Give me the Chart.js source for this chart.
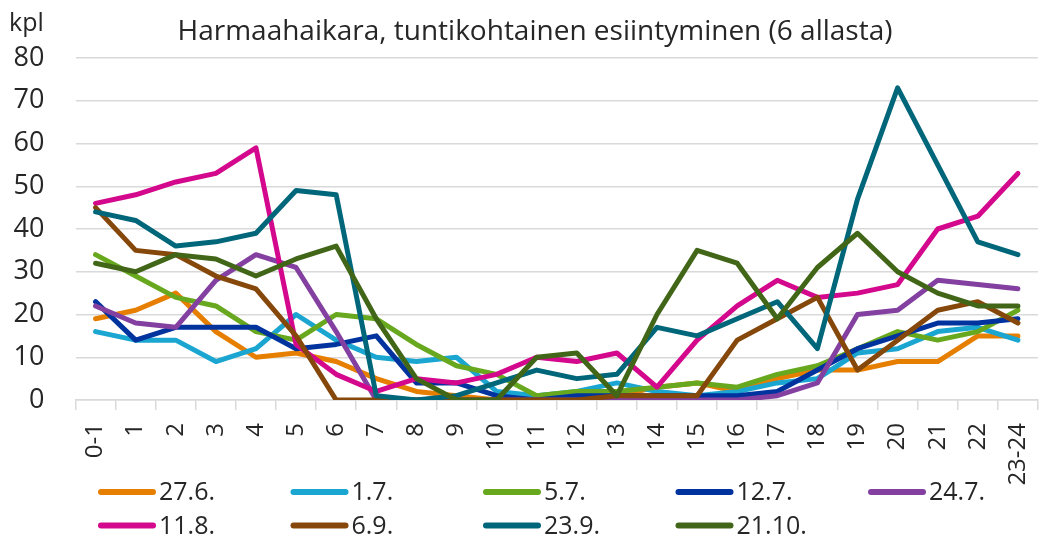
<!DOCTYPE html>
<html>
<head>
<meta charset="utf-8">
<script src="https://cdn.jsdelivr.net/npm/chart.js@4.4.1/dist/chart.umd.min.js"></script>
<style>
  html, body { margin: 0; padding: 0; background: #fff; overflow: hidden; }
  #wrap { width: 1060px; height: 538px; }
</style>
</head>
<body>
<div id="wrap"><canvas id="chart" width="1060" height="538"></canvas></div>
<script>
// ---- data ----
const HOURS = ['0-1', '1', '2', '3', '4', '5', '6', '7', '8', '9', '10', '11',
  '12', '13', '14', '15', '16', '17', '18', '19', '20', '21', '22', '23-24'];

const SERIES_NAMES = ['27.6.', '1.7.', '5.7.', '12.7.', '24.7.', '11.8.', '6.9.', '23.9.', '21.10.'];
const SERIES_COLORS = ['#E67E00', '#1AA6D0', '#68A81E', '#00339E', '#8340A0', '#D4088C', '#85480A', '#00667A', '#426618'];

const D_27_6  = [19, 21, 25, 16, 10, 11, 9, 5, 2, 1, 0, 0, 0, 1, 3, 4, 2, 5, 7, 7, 9, 9, 15, 15];
const D_1_7   = [16, 14, 14, 9, 12, 20, 14, 10, 9, 10, 2, 1, 2, 4, 2, 1, 2, 4, 5, 11, 12, 16, 17, 14];
const D_5_7   = [34, 29, 24, 22, 16, 14, 20, 19, 13, 8, 6, 1, 2, 2, 3, 4, 3, 6, 8, 12, 16, 14, 16, 21];
const D_12_7  = [23, 14, 17, 17, 17, 12, 13, 15, 4, 4, 1, 0, 1, 1, 1, 1, 1, 2, 7, 12, 15, 18, 18, 19];
const D_24_7  = [22, 18, 17, 28, 34, 31, 16, 0, 0, 0, 0, 0, 0, 0, 0, 0, 0, 1, 4, 20, 21, 28, 27, 26];
const D_11_8  = [46, 48, 51, 53, 59, 13, 6, 2, 5, 4, 6, 10, 9, 11, 3, 14, 22, 28, 24, 25, 27, 40, 43, 53];
const D_6_9   = [45, 35, 34, 29, 26, 15, 0, 0, 0, 0, 0, 0, 0, 1, 1, 1, 14, 19, 24, 7, 14, 21, 23, 18];
const D_23_9  = [44, 42, 36, 37, 39, 49, 48, 1, 0, 1, 4, 7, 5, 6, 17, 15, 19, 23, 12, 47, 73, 55, 37, 34];
const D_21_10 = [32, 30, 34, 33, 29, 33, 36, 19, 5, 0, 0, 10, 11, 1, 20, 35, 32, 19, 31, 39, 30, 25, 22, 22];

const SERIES_DATA = [D_27_6, D_1_7, D_5_7, D_12_7, D_24_7, D_11_8, D_6_9, D_23_9, D_21_10];

const Y_MIN = 0, Y_MAX = 80, Y_STEP = 10;

const TITLE = 'Harmaahaikara, tuntikohtainen esiintyminen (6 allasta)';
const UNIT = 'kpl';

const FONT = '"Open Sans", "Segoe UI", sans-serif';
const TEXT = '#262626';
const GRID = '#d9d9d9';

// title, unit label and the 5-column legend are drawn by hand
const decorations = {
  id: 'decorations',
  afterDraw(chart) {
    const ctx = chart.ctx;
    ctx.save();
    ctx.fillStyle = TEXT;
    ctx.textBaseline = 'alphabetic';

    ctx.font = '28px ' + FONT;
    ctx.textAlign = 'center';
    ctx.fillText(TITLE, 535, 40);

    ctx.font = '25px ' + FONT;
    ctx.textAlign = 'left';
    ctx.fillText(UNIT, 9, 31);

    ctx.font = '25px ' + FONT;
    ctx.textBaseline = 'middle';
    SERIES_NAMES.forEach((name, i) => {
      const col = i % 5, row = Math.floor(i / 5);
      const x = 98 + col * 192.5;
      const y = 492 + row * 33.5;
      ctx.strokeStyle = SERIES_COLORS[i];
      ctx.lineWidth = 6;
      ctx.lineCap = 'round';
      ctx.beginPath();
      ctx.moveTo(x + 3, y);
      ctx.lineTo(x + 55, y);
      ctx.stroke();
      ctx.fillText(name, x + 61, y + 1);
    });
    ctx.restore();
  }
};

new Chart(document.getElementById('chart'), {
  type: 'line',
  data: {
    labels: HOURS,
    datasets: SERIES_DATA.map((d, i) => ({
      label: SERIES_NAMES[i],
      data: d,
      borderColor: SERIES_COLORS[i],
      backgroundColor: SERIES_COLORS[i],
      borderWidth: 5,
      pointRadius: 0,
      tension: 0,
      borderJoinStyle: 'round',
      borderCapStyle: 'round',
      order: SERIES_DATA.length - 1 - i
    }))
  },
  options: {
    responsive: false,
    animation: false,
    layout: { padding: { top: 58, right: 13.5, bottom: 0, left: 0 } },
    plugins: {
      legend: { display: false },
      title: { display: false },
      tooltip: { enabled: false }
    },
    scales: {
      x: {
        offset: true,
        grid: { offset: true, drawOnChartArea: false, drawTicks: true, tickLength: 10, color: GRID, lineWidth: 1.5 },
        border: { display: true, color: GRID, width: 1.5 },
        ticks: {
          autoSkip: false, minRotation: 90, maxRotation: 90, padding: 13,
          color: TEXT, font: { family: FONT, size: 24 }
        },
        afterFit(scale) { scale.height = 138; }
      },
      y: {
        min: Y_MIN, max: Y_MAX,
        grid: { color: GRID, lineWidth: 1.5, drawTicks: false },
        border: { display: false },
        ticks: {
          stepSize: Y_STEP, padding: 31,
          color: TEXT, font: { family: FONT, size: 27 }
        },
        afterFit(scale) { scale.width = 75.5; }
      }
    }
  },
  plugins: [decorations]
});
</script>
</body>
</html>
